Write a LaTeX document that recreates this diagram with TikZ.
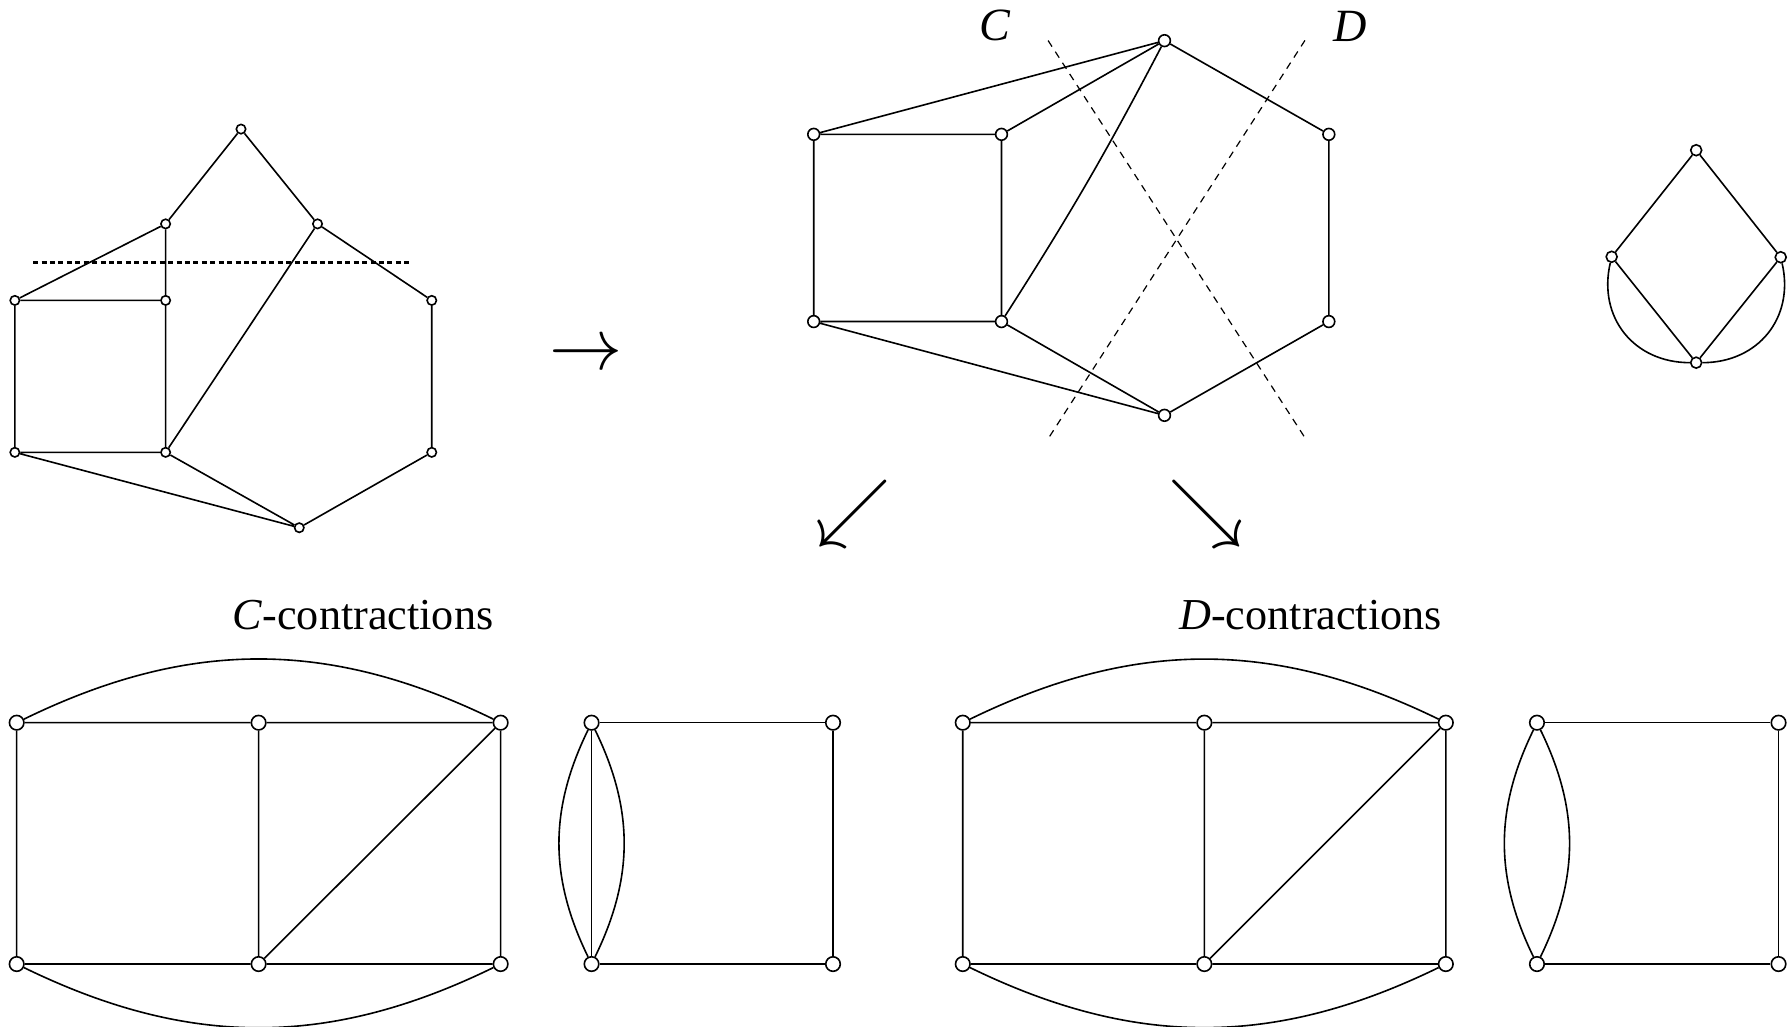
\documentclass[tikz,border=0pt]{standalone}
\usepackage{fontspec}
\setmainfont{Liberation Serif}
\begin{document}
\begin{tikzpicture}[x=0.01cm,y=0.01cm,
  edge/.style={line width=0.4pt},
  vl/.style={circle,draw,fill=white,line width=0.4pt,inner sep=0pt,minimum size=0.082cm},
  vm/.style={circle,draw,fill=white,line width=0.4pt,inner sep=0pt,minimum size=0.103cm},
  vr/.style={circle,draw,fill=white,line width=0.4pt,inner sep=0pt,minimum size=0.096cm},
  vb/.style={circle,draw,fill=white,line width=0.4pt,inner sep=0pt,minimum size=0.127cm},
  cut/.style={line width=0.3pt,dash pattern=on 1.8pt off 1.5pt},
  cutdot/.style={line width=0.75pt,dash pattern=on 1.25pt off 0.85pt},
  lbl/.style={inner sep=0pt,font=\fontsize{11.5}{13}\selectfont\itshape},
  ttl/.style={inner sep=0pt,anchor=base,font=\fontsize{11}{13}\selectfont},
  glyph/.style={inner sep=0pt}]
\useasboundingbox (0,0) rectangle (1568,-899);

% ---------- left graph ----------
\node[vl] (Lt)  at (211,-113) {};
\node[vl] (La)  at (145,-196) {};
\node[vl] (Lb)  at (278,-196) {};
\node[vl] (Ltl) at (13,-263) {};
\node[vl] (Ltr) at (145,-263) {};
\node[vl] (Lhu) at (378,-263) {};
\node[vl] (Lbl) at (13,-396) {};
\node[vl] (Lbr) at (145,-396) {};
\node[vl] (Lhl) at (378,-396) {};
\node[vl] (Lbt) at (262,-462) {};
\draw[edge] (Lt)--(La) (Lt)--(Lb) (La)--(Ltl) (La)--(Ltr)
  (Ltl)--(Ltr) (Ltl)--(Lbl) (Ltr)--(Lbr) (Lbl)--(Lbr)
  (Lbl)--(Lbt) (Lbr)--(Lbt) (Lbr)--(Lb) (Lb)--(Lhu) (Lhu)--(Lhl) (Lhl)--(Lbt);
\coordinate (dl) at (29,-230);
\coordinate (dr) at (358,-230);
\draw[cutdot] (dl)--(dr);

% ---------- arrow glyphs ----------
\node[glyph] (arr) at (513,-312) {\scalebox{1.82}{$\rightarrow$}};
\node[glyph] (sw) at (747,-449.4) {\scalebox{1.88}{$\swarrow$}};
\node[glyph] (se) at (1056,-449.4) {\scalebox{1.88}{$\searrow$}};

% ---------- middle graph ----------
\node[vm] (Mt)  at (1019.5,-35.6) {};
\node[vm] (Mtl) at (712.4,-117.6) {};
\node[vm] (Mtr) at (876.8,-117.6) {};
\node[vm] (Mhu) at (1163.4,-117.6) {};
\node[vm] (Mbl) at (712.4,-281.5) {};
\node[vm] (Mbr) at (876.8,-281.5) {};
\node[vm] (Mhl) at (1163.4,-281.5) {};
\node[vm] (Mbt) at (1019.5,-363.6) {};
\draw[edge] (Mt)--(Mtl) (Mt)--(Mtr) (Mt) to[bend left=2.5] (Mbr) (Mt)--(Mhu)
  (Mtl)--(Mtr) (Mtl)--(Mbl) (Mtr)--(Mbr) (Mbl)--(Mbr)
  (Mbl)--(Mbt) (Mbr)--(Mbt) (Mbt)--(Mhl) (Mhl)--(Mhu);
\coordinate (c1) at (917.6,-35.5);
\coordinate (c2) at (1142,-382.5);
\coordinate (d1) at (1142.5,-35.3);
\coordinate (d2) at (918.4,-382.9);
\draw[cut] (c1)--(c2);
\draw[cut] (d1)--(d2);
\node[lbl] (Clab) at (871,-22) {C};
\node[lbl] (Dlab) at (1182,-23) {D};

% ---------- right graph ----------
\node[vr] (Rt) at (1485,-131.5) {};
\node[vr] (Rl) at (1411,-224.8) {};
\node[vr] (Rr) at (1559,-225.2) {};
\node[vr] (Rb) at (1485,-317.5) {};
\draw[edge] (Rt)--(Rl) (Rt)--(Rr) (Rl)--(Rb) (Rr)--(Rb);
\draw[edge] (Rl) to[out=-103,in=180,looseness=1.12] (Rb);
\draw[edge] (Rr) to[out=-77,in=0,looseness=1.12] (Rb);

% ---------- titles ----------
\node[ttl] (Ctitle) at (317.8,-551) {\textit{C}-contractions};
\node[ttl] (Dtitle) at (1147.4,-551) {\textit{D}-contractions};

% ---------- C-contractions ----------
\node[vb] (c11) at (14.6,-632.7) {};
\node[vb] (c12) at (226.4,-632.7) {};
\node[vb] (c13) at (438.3,-632.7) {};
\node[vb] (c14) at (14.6,-844) {};
\node[vb] (c15) at (226.4,-844) {};
\node[vb] (c16) at (438.3,-844) {};
\draw[edge] (c11)--(c12) (c12)--(c13) (c14)--(c15) (c15)--(c16)
  (c11)--(c14) (c12)--(c15) (c13)--(c16) (c15)--(c13);
\draw[edge] (c11) to[bend left=26] (c13);
\draw[edge] (c14) to[bend right=26] (c16);

\node[vb] (c21) at (517.9,-632.7) {};
\node[vb] (c22) at (729.3,-632.7) {};
\node[vb] (c23) at (517.9,-844) {};
\node[vb] (c24) at (729.3,-844) {};
\draw[edge] (c21)--(c22) (c23)--(c24) (c22)--(c24) (c21)--(c23);
\draw[edge] (c21) to[bend right=26] (c23);
\draw[edge] (c21) to[bend left=26] (c23);

% ---------- D-contractions ----------
\node[vb] (d11) at (842.9,-632.7) {};
\node[vb] (d12) at (1054.4,-632.7) {};
\node[vb] (d13) at (1265.8,-632.7) {};
\node[vb] (d14) at (842.9,-844) {};
\node[vb] (d15) at (1054.4,-844) {};
\node[vb] (d16) at (1265.8,-844) {};
\draw[edge] (d11)--(d12) (d12)--(d13) (d14)--(d15) (d15)--(d16)
  (d11)--(d14) (d12)--(d15) (d13)--(d16) (d15)--(d13);
\draw[edge] (d11) to[bend left=26] (d13);
\draw[edge] (d14) to[bend right=26] (d16);

\node[vb] (d21) at (1345.6,-632.7) {};
\node[vb] (d22) at (1557.1,-632.7) {};
\node[vb] (d23) at (1345.6,-844) {};
\node[vb] (d24) at (1557.1,-844) {};
\draw[edge] (d21)--(d22) (d23)--(d24) (d22)--(d24);
\draw[edge] (d21) to[bend right=26] (d23);
\draw[edge] (d21) to[bend left=26] (d23);
\end{tikzpicture}
\end{document}
